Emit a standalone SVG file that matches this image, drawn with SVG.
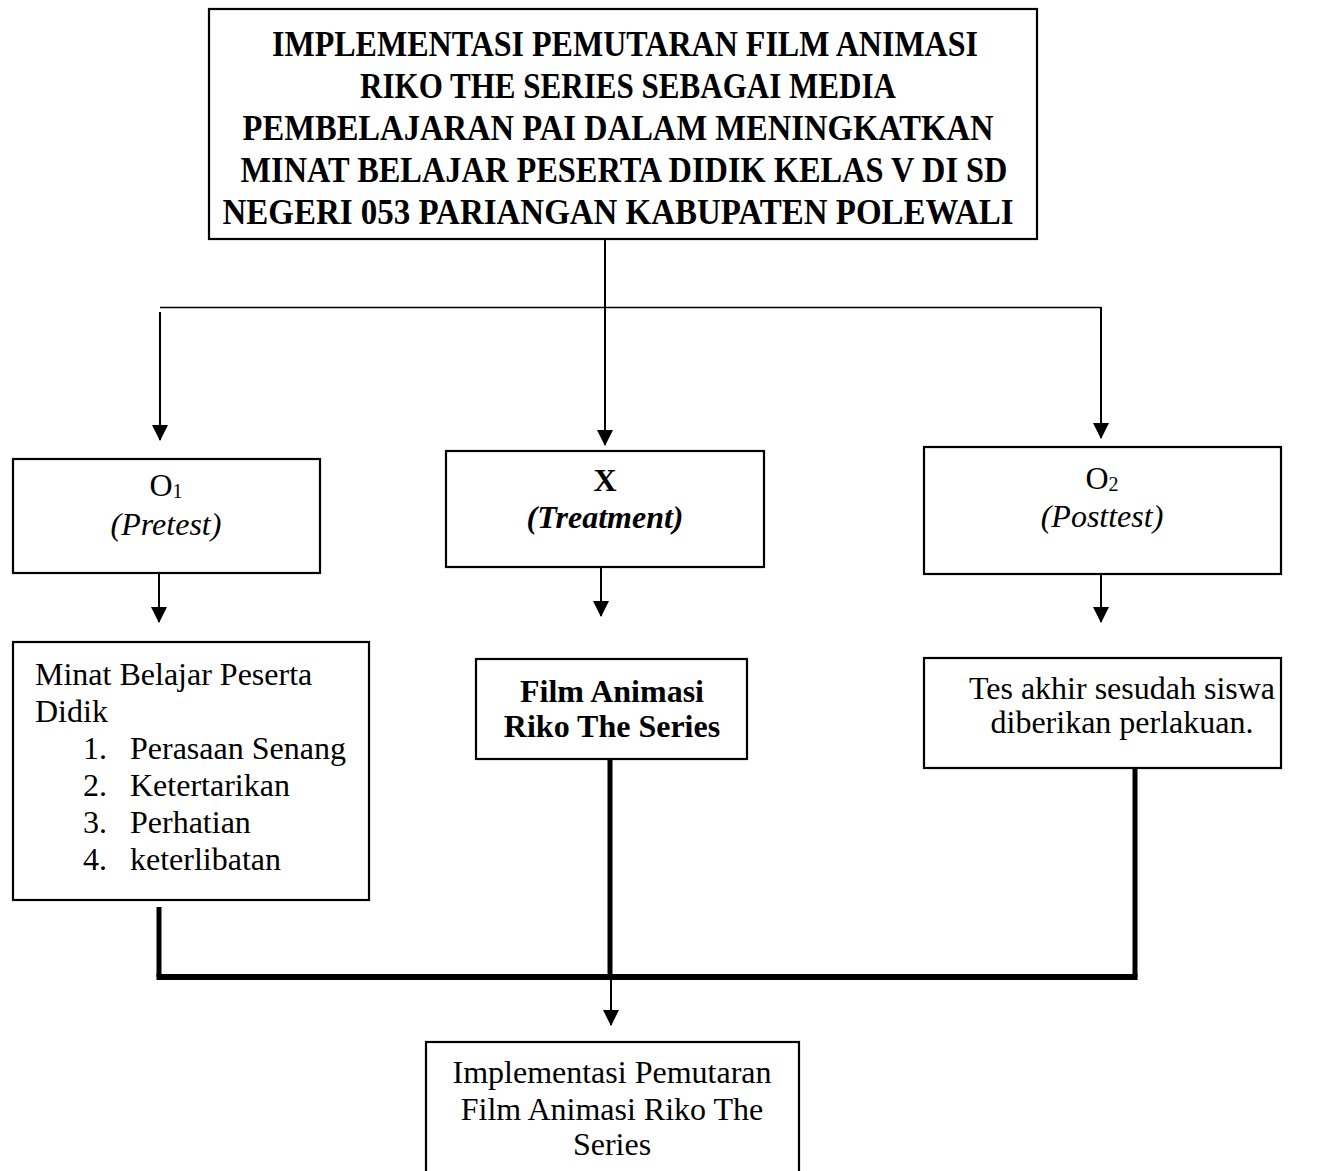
<svg xmlns="http://www.w3.org/2000/svg" width="1325" height="1171" viewBox="0 0 1325 1171">
<style>
.box{fill:#fff;stroke:#000;stroke-width:2.2}
.t{font-family:"Liberation Serif","Times New Roman",serif;font-size:32px;fill:#000}
.c{text-anchor:middle}
.b{font-weight:bold}
.i{font-style:italic}
.ttl{font-family:"Liberation Serif","Times New Roman",serif;font-size:35px;font-weight:bold;text-anchor:middle;fill:#000}
.thin{stroke:#000;stroke-width:1.3;fill:none}
.arr{stroke:#000;stroke-width:2;fill:none}
.thick{stroke:#000;stroke-width:5;fill:none}
.sub{font-size:20px}
</style>
<defs>
<marker id="ah" markerWidth="16" markerHeight="16" viewBox="0 0 16 16" refX="15" refY="8" orient="auto" markerUnits="userSpaceOnUse">
<path d="M0,0 L16,8 L0,16 Z" fill="#000"/>
</marker>
</defs>
<rect width="1325" height="1171" fill="#fff"/>
<g id="connectors">
<line class="arr" x1="605" y1="239" x2="605" y2="445" marker-end="url(#ah)"/>
<line class="thin" x1="160" y1="307.5" x2="1101" y2="307.5"/>
<line class="arr" x1="160" y1="312" x2="160" y2="440" marker-end="url(#ah)"/>
<line class="arr" x1="1101" y1="307" x2="1101" y2="438" marker-end="url(#ah)"/>
<line class="arr" x1="159" y1="573" x2="159" y2="622" marker-end="url(#ah)"/>
<line class="arr" x1="601" y1="567" x2="601" y2="616" marker-end="url(#ah)"/>
<line class="arr" x1="1101" y1="574" x2="1101" y2="622" marker-end="url(#ah)"/>
<line class="thick" x1="159" y1="907" x2="159" y2="977"/>
<line class="thick" x1="610" y1="759" x2="610" y2="977"/>
<line class="thick" x1="1135" y1="768" x2="1135" y2="977"/>
<line stroke="#000" stroke-width="6" x1="156.5" y1="977" x2="1137.5" y2="977"/>
<line class="arr" x1="611" y1="980" x2="611" y2="1025" marker-end="url(#ah)"/>
</g>
<g id="title">
<rect class="box" x="209" y="9" width="828" height="230"/>
<text class="ttl" x="625" y="56" textLength="706" lengthAdjust="spacingAndGlyphs">IMPLEMENTASI PEMUTARAN FILM ANIMASI</text>
<text class="ttl" x="628" y="98" textLength="536" lengthAdjust="spacingAndGlyphs">RIKO THE SERIES SEBAGAI MEDIA</text>
<text class="ttl" x="618" y="140" textLength="751" lengthAdjust="spacingAndGlyphs">PEMBELAJARAN PAI DALAM MENINGKATKAN</text>
<text class="ttl" x="624" y="182" textLength="767" lengthAdjust="spacingAndGlyphs">MINAT BELAJAR PESERTA DIDIK KELAS V DI SD</text>
<text class="ttl" x="618" y="224" textLength="791" lengthAdjust="spacingAndGlyphs">NEGERI 053 PARIANGAN KABUPATEN POLEWALI</text>
</g>
<g id="o1">
<rect class="box" x="13" y="459" width="307" height="114"/>
<text class="t c" x="166" y="496">O<tspan class="sub" dy="2">1</tspan></text>
<text class="t c i" x="166" y="535">(Pretest)</text>
</g>
<g id="x">
<rect class="box" x="446" y="451" width="318" height="116"/>
<text class="t c b" x="605" y="491">X</text>
<text class="t c b i" x="605" y="528">(Treatment)</text>
</g>
<g id="o2">
<rect class="box" x="924" y="447" width="357" height="127"/>
<text class="t c" x="1102" y="489">O<tspan class="sub" dy="2">2</tspan></text>
<text class="t c i" x="1102" y="527">(Posttest)</text>
</g>
<g id="minat">
<rect class="box" x="13" y="642" width="356" height="258"/>
<text class="t" x="35" y="685">Minat Belajar Peserta</text>
<text class="t" x="35" y="722">Didik</text>
<text class="t" x="83" y="759">1.</text><text class="t" x="130" y="759">Perasaan Senang</text>
<text class="t" x="83" y="796">2.</text><text class="t" x="130" y="796">Ketertarikan</text>
<text class="t" x="83" y="833">3.</text><text class="t" x="130" y="833">Perhatian</text>
<text class="t" x="83" y="870">4.</text><text class="t" x="130" y="870">keterlibatan</text>
</g>
<g id="film">
<rect class="box" x="476" y="659" width="271" height="100"/>
<text class="t c b" x="612" y="702">Film Animasi</text>
<text class="t c b" x="612" y="737">Riko The Series</text>
</g>
<g id="tes">
<rect class="box" x="924" y="658" width="357" height="110"/>
<text class="t c" x="1122" y="699">Tes akhir sesudah siswa</text>
<text class="t c" x="1122" y="733">diberikan perlakuan.</text>
</g>
<g id="impl">
<rect class="box" x="426" y="1042" width="373" height="140"/>
<text class="t c" x="612" y="1083">Implementasi Pemutaran</text>
<text class="t c" x="612" y="1120">Film Animasi Riko The</text>
<text class="t c" x="612" y="1155">Series</text>
</g>
</svg>
